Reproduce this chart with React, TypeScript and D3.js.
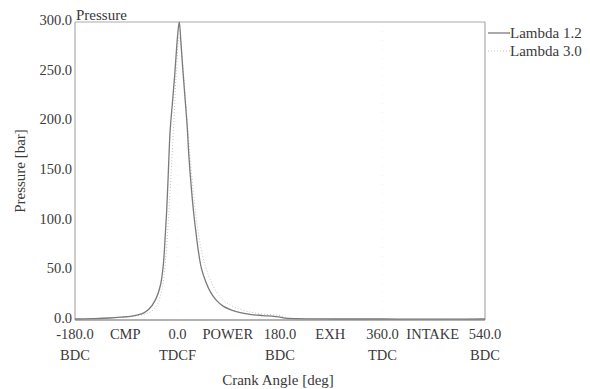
import React from "react";
import * as d3 from "d3";

const anglesL12 = [-180, -150, -120, -100, -80, -60, -50, -39, -30, -25, -22, -19, -16, -13, -9, -5, -2, 0, 3, 6, 9, 13, 17, 20, 24, 28, 32, 37, 42, 50, 58, 68, 80, 95, 110, 130, 150, 170, 180, 190, 210, 240, 300, 360, 420, 480, 540];
const pressL12 = [1.0, 1.4, 2.0, 2.8, 4.0, 7.0, 11, 20, 35, 55, 80, 110, 150, 190, 218, 246, 270, 285, 300, 280, 255, 225, 195, 165, 135, 110, 90, 68, 52, 38, 28, 20, 14, 10, 7.5, 5.5, 4.5, 3.6, 3.0, 1.8, 1.3, 1.1, 1.0, 1.0, 0.9, 0.9, 1.0];

const anglesL30 = [-180, -140, -100, -80, -60, -45, -35, -27, -21, -16, -11, -6, -2, 3, 7, 11, 15, 19, 23, 28, 33, 40, 48, 58, 70, 85, 100, 120, 140, 160, 180, 192, 210, 240, 300, 400, 540];
const pressL30 = [1.0, 1.5, 2.6, 3.6, 5.5, 9, 16, 32, 60, 100, 150, 205, 250, 285, 270, 245, 215, 185, 158, 128, 102, 76, 56, 40, 27, 18, 13, 9, 6.8, 5.4, 4.4, 2.2, 1.4, 1.1, 1.0, 0.9, 1.0];

const yTicks = [0, 50, 100, 150, 200, 250, 300];
const xTicks = [-180, 0, 180, 360, 540];
const xTickTop = ["-180.0", "0.0", "180.0", "360.0", "540.0"];
const xTickBottom = ["BDC", "TDCF", "BDC", "TDC", "BDC"];
const phaseAngles = [-90, 90, 270, 450];
const phaseLabels = ["CMP", "POWER", "EXH", "INTAKE"];
const seriesNames = ["Lambda 1.2", "Lambda 3.0"];

export default function App() {
  const W = 590, H = 389;
  const left = 75, right = 485, top = 22, bottom = 320;
  const x = d3.scaleLinear().domain([-180, 540]).range([left, right]);
  const y = d3.scaleLinear().domain([0, 300]).range([bottom, top]);
  const line = d3.line<[number, number]>().x(d => x(d[0])).y(d => y(d[1])).curve(d3.curveCatmullRom.alpha(0.5));
  const d12 = line(anglesL12.map((a, i) => [a, pressL12[i]] as [number, number])) || "";
  const d30 = line(anglesL30.map((a, i) => [a, pressL30[i]] as [number, number])) || "";
  const font = "'Liberation Serif', 'Times New Roman', serif";
  const textColor = "#3a3a3a";
  return (
    <svg width={W} height={H} style={{ position: "absolute", left: 0, top: 0, background: "#fff" }} fontFamily={font} fontSize={15}>
      <rect x={0} y={0} width={W} height={H} fill="#fff" />
      {xTicks.slice(1, -1).map((t, i) => (
        <line key={"g" + i} x1={x(t)} x2={x(t)} y1={top} y2={bottom} stroke="#f0f0f0" strokeDasharray="1,8" />
      ))}
      <line x1={left} x2={right} y1={top} y2={top} stroke="#aaa" />
      <line x1={right} x2={right} y1={top} y2={bottom} stroke="#999" />
      <line x1={left} x2={left} y1={top} y2={bottom} stroke="#999" />
      <line x1={left} x2={right} y1={bottom} y2={bottom} stroke="#666" strokeWidth={1.2} />
      <path d={d30} fill="none" stroke="#c4c4c4" strokeWidth={1} strokeDasharray="1,2" />
      <path d={d12} fill="none" stroke="#7a7a7a" strokeWidth={1.3} />
      <text x={left + 1} y={top - 2} fill={textColor}>Pressure</text>
      {yTicks.map(t => (
        <text key={"y" + t} x={left - 3} y={y(t) + 3} textAnchor="end" fontSize={14.5} fill={textColor}>{t.toFixed(1)}</text>
      ))}
      <text transform={`translate(25,${(top + bottom) / 2}) rotate(-90)`} textAnchor="middle" fill={textColor}>Pressure [bar]</text>
      {xTicks.map((t, i) => (
        <g key={"x" + t}>
          <text x={x(t)} y={bottom + 19} textAnchor="middle" fontSize={14.5} fill={textColor}>{xTickTop[i]}</text>
          <text x={x(t)} y={bottom + 40} textAnchor="middle" fontSize={14.5} fill={textColor}>{xTickBottom[i]}</text>
        </g>
      ))}
      {phaseAngles.map((a, i) => (
        <text key={"p" + a} x={x(a) - 1} y={bottom + 19} textAnchor="middle" fontSize={14.5} fill={textColor}>{phaseLabels[i]}</text>
      ))}
      <text x={(left + right) / 2 - 2} y={bottom + 65} textAnchor="middle" fill={textColor}>Crank Angle [deg]</text>
      <line x1={right + 3} x2={right + 25} y1={33} y2={33} stroke="#7a7a7a" strokeWidth={1.3} />
      <text x={right + 25} y={38} fill={textColor}>{seriesNames[0]}</text>
      <line x1={right + 3} x2={right + 25} y1={51} y2={51} stroke="#c4c4c4" strokeDasharray="1,2" />
      <text x={right + 25} y={56} fill={textColor}>{seriesNames[1]}</text>
    </svg>
  );
}
